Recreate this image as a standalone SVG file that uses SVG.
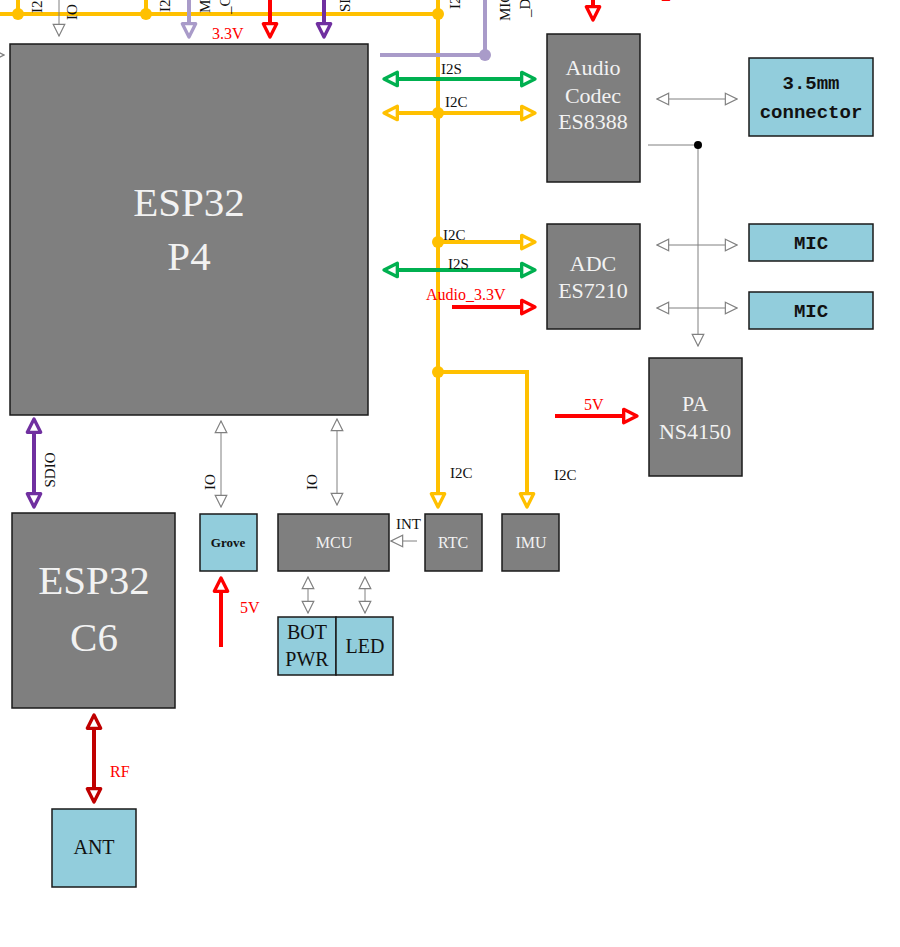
<svg xmlns="http://www.w3.org/2000/svg" width="900" height="947" viewBox="0 0 900 947">
<style>
.chip{fill:#7F7F7F;stroke:#1a1a1a;stroke-width:1.5}
.blue{fill:#92CDDC;stroke:#1a1a1a;stroke-width:1.5}
.ct{font-family:"Liberation Serif",serif;fill:#F2F2F2;text-anchor:middle}
.bt{font-family:"Liberation Serif",serif;fill:#111;text-anchor:middle}
.mt{font-family:"Liberation Mono",monospace;fill:#111;text-anchor:middle;font-weight:bold}
.lb{font-family:"Liberation Serif",serif;fill:#111;font-size:15px}
.rl{font-family:"Liberation Serif",serif;fill:#FF0000;font-size:16px}
.y{stroke:#FFC000;stroke-width:4;fill:none}
.g{stroke:#00B050;stroke-width:4;fill:none}
.r{stroke:#FF0000;stroke-width:4;fill:none}
.p{stroke:#7030A0;stroke-width:4;fill:none}
.lv{stroke:#A99BC9;stroke-width:4;fill:none}
.dr{stroke:#C00000;stroke-width:4;fill:none}
.gr{stroke:#808080;stroke-width:1;fill:none}
</style>
<defs>
<marker id="aY" markerUnits="userSpaceOnUse" markerWidth="20" markerHeight="20" viewBox="-3 -3 18 18" refX="12" refY="6" orient="auto-start-reverse"><path d="M0,0 L12,6 L0,12 z" fill="#fff" stroke="#FFC000" stroke-width="3" stroke-linejoin="round"/></marker>
<marker id="aG" markerUnits="userSpaceOnUse" markerWidth="20" markerHeight="20" viewBox="-3 -3 18 18" refX="12" refY="6" orient="auto-start-reverse"><path d="M0,0 L12,6 L0,12 z" fill="#fff" stroke="#00B050" stroke-width="3" stroke-linejoin="round"/></marker>
<marker id="aR" markerUnits="userSpaceOnUse" markerWidth="20" markerHeight="20" viewBox="-3 -3 18 18" refX="12" refY="6" orient="auto-start-reverse"><path d="M0,0 L12,6 L0,12 z" fill="#fff" stroke="#FF0000" stroke-width="3" stroke-linejoin="round"/></marker>
<marker id="aP" markerUnits="userSpaceOnUse" markerWidth="20" markerHeight="20" viewBox="-3 -3 18 18" refX="12" refY="6" orient="auto-start-reverse"><path d="M0,0 L12,6 L0,12 z" fill="#fff" stroke="#7030A0" stroke-width="3" stroke-linejoin="round"/></marker>
<marker id="aL" markerUnits="userSpaceOnUse" markerWidth="20" markerHeight="20" viewBox="-3 -3 18 18" refX="12" refY="6" orient="auto-start-reverse"><path d="M0,0 L12,6 L0,12 z" fill="#fff" stroke="#A99BC9" stroke-width="3" stroke-linejoin="round"/></marker>
<marker id="aD" markerUnits="userSpaceOnUse" markerWidth="20" markerHeight="20" viewBox="-3 -3 18 18" refX="12" refY="6" orient="auto-start-reverse"><path d="M0,0 L12,6 L0,12 z" fill="#fff" stroke="#C00000" stroke-width="3" stroke-linejoin="round"/></marker>
<marker id="aK" markerUnits="userSpaceOnUse" markerWidth="14" markerHeight="14" viewBox="-1 -1 12 12" refX="10" refY="5" orient="auto-start-reverse"><path d="M0,0 L10,5 L0,10 z" fill="#fff" stroke="#808080" stroke-width="1"/></marker>
</defs>

<g id="connectors">
  <!-- yellow I2C bus -->
  <path class="y" d="M0,14 H438"/>
  <path class="y" d="M18,0 V14 M146,0 V14"/>
  <path class="y" d="M438,0 V507" marker-end="url(#aY)"/>
  <path class="y" d="M384,113 H535" marker-start="url(#aY)" marker-end="url(#aY)"/>
  <path class="y" d="M438,242 H535" marker-end="url(#aY)"/>
  <path class="y" d="M438,372 H527 V507" marker-end="url(#aY)"/>
  <g fill="#FFC000">
    <circle cx="18" cy="14" r="6"/><circle cx="146" cy="14" r="6"/><circle cx="438" cy="14" r="6"/>
    <circle cx="438" cy="113" r="6"/><circle cx="438" cy="242" r="6"/><circle cx="438" cy="372" r="6"/>
  </g>
  <!-- green I2S -->
  <path class="g" d="M384,79 H535" marker-start="url(#aG)" marker-end="url(#aG)"/>
  <path class="g" d="M384,270 H535" marker-start="url(#aG)" marker-end="url(#aG)"/>
  <!-- lavender -->
  <path class="lv" d="M485,0 V55 H380"/>
  <circle cx="485" cy="55" r="6" fill="#A99BC9"/>
  <path class="lv" d="M189,0 V37" marker-end="url(#aL)"/>
  <!-- red power -->
  <path class="r" d="M270,0 V37" marker-end="url(#aR)"/>
  <path class="r" d="M593,0 V20" marker-end="url(#aR)"/>
  <path class="r" d="M452,307 H535" marker-end="url(#aR)"/>
  <path class="r" d="M555,416 H637" marker-end="url(#aR)"/>
  <path class="r" d="M221,647 V578" marker-end="url(#aR)"/>
  <!-- purple -->
  <path class="p" d="M324,0 V37" marker-end="url(#aP)"/>
  <path class="p" d="M34,419 V507" marker-start="url(#aP)" marker-end="url(#aP)"/>
  <!-- RF -->
  <path class="dr" d="M94,715 V802" marker-start="url(#aD)" marker-end="url(#aD)"/>
  <!-- gray thin -->
  <path class="gr" d="M59,0 V36" marker-end="url(#aK)"/>
  <path class="gr" d="M-8,55 H4" marker-end="url(#aK)"/>
  <path class="gr" d="M657,99 H737" marker-start="url(#aK)" marker-end="url(#aK)"/>
  <path class="gr" d="M657,245 H737" marker-start="url(#aK)" marker-end="url(#aK)"/>
  <path class="gr" d="M657,308 H737" marker-start="url(#aK)" marker-end="url(#aK)"/>
  <path class="gr" d="M648,145 H698 V346" marker-end="url(#aK)"/>
  <circle cx="698" cy="145" r="4" fill="#000"/>
  <path class="gr" d="M221,421 V507" marker-start="url(#aK)" marker-end="url(#aK)"/>
  <path class="gr" d="M337,419 V505" marker-start="url(#aK)" marker-end="url(#aK)"/>
  <path class="gr" d="M417,541 H391" marker-end="url(#aK)"/>
  <path class="gr" d="M308,577 V613" marker-start="url(#aK)" marker-end="url(#aK)"/>
  <path class="gr" d="M365,577 V613" marker-start="url(#aK)" marker-end="url(#aK)"/>

  <!-- labels -->
  <text class="lb" transform="translate(42,13) rotate(-90)">I2C</text>
  <text class="lb" transform="translate(77,20) rotate(-90)">IO</text>
  <text class="lb" transform="translate(170,12) rotate(-90)">I2C</text>
  <text class="lb" transform="translate(210,13) rotate(-90)">MIC</text>
  <text class="lb" transform="translate(230,14) rotate(-90)">_CLK</text>
  <text class="lb" transform="translate(350,12) rotate(-90)">SDIO</text>
  <text class="lb" transform="translate(460,9) rotate(-90)">I2C</text>
  <text class="lb" transform="translate(510,21) rotate(-90)">MIC</text>
  <text class="lb" transform="translate(530,17) rotate(-90)">_DATA</text>
  <text class="rl" x="622" y="-1">Audio_3.3V</text>
  <text class="rl" x="212" y="39">3.3V</text>
  <text class="lb" x="441" y="74">I2S</text>
  <text class="lb" x="445" y="107">I2C</text>
  <text class="lb" x="443" y="240">I2C</text>
  <text class="lb" x="448" y="269">I2S</text>
  <text class="rl" x="426" y="300">Audio_3.3V</text>
  <text class="rl" x="584" y="410">5V</text>
  <text class="lb" x="450" y="478">I2C</text>
  <text class="lb" x="554" y="480">I2C</text>
  <text class="lb" x="396" y="529">INT</text>
  <text class="lb" text-anchor="middle" transform="translate(215,482) rotate(-90)">IO</text>
  <text class="lb" text-anchor="middle" transform="translate(317,482) rotate(-90)">IO</text>
  <text class="lb" text-anchor="middle" transform="translate(55,470) rotate(-90)">SDIO</text>
  <text class="rl" x="240" y="613">5V</text>
  <text class="rl" x="110" y="777">RF</text>
</g>

<g id="esp32p4"><rect class="chip" x="10" y="44" width="358" height="371"/>
  <text class="ct" x="189" y="216" font-size="41">ESP32</text><text class="ct" x="189" y="270" font-size="41">P4</text></g>
<g id="codec"><rect class="chip" x="547" y="34" width="93" height="148"/>
  <text class="ct" x="593" y="75" font-size="22">Audio</text><text class="ct" x="593" y="103" font-size="22">Codec</text><text class="ct" x="593" y="129" font-size="22">ES8388</text></g>
<g id="jack"><rect class="blue" x="749" y="58" width="124" height="78"/>
  <text class="mt" x="811" y="89" font-size="19">3.5mm</text><text class="mt" x="811" y="118" font-size="19">connector</text></g>
<g id="adc"><rect class="chip" x="547" y="224" width="93" height="105"/>
  <text class="ct" x="593" y="271" font-size="22">ADC</text><text class="ct" x="593" y="298" font-size="22">ES7210</text></g>
<g id="mic1"><rect class="blue" x="749" y="224" width="124" height="37"/><text class="mt" x="811" y="249" font-size="19">MIC</text></g>
<g id="mic2"><rect class="blue" x="749" y="292" width="124" height="37"/><text class="mt" x="811" y="317" font-size="19">MIC</text></g>
<g id="pa"><rect class="chip" x="649" y="358" width="93" height="118"/>
  <text class="ct" x="695" y="411" font-size="22">PA</text><text class="ct" x="695" y="439" font-size="22">NS4150</text></g>
<g id="grove"><rect class="blue" x="200" y="514" width="57" height="57"/><text class="bt" x="228" y="547" font-size="13" font-weight="bold">Grove</text></g>
<g id="mcu"><rect class="chip" x="278" y="514" width="111" height="57"/><text class="ct" x="334" y="548" font-size="16">MCU</text></g>
<g id="rtc"><rect class="chip" x="425" y="514" width="57" height="57"/><text class="ct" x="453" y="548" font-size="16">RTC</text></g>
<g id="imu"><rect class="chip" x="502" y="514" width="57" height="57"/><text class="ct" x="531" y="548" font-size="16">IMU</text></g>
<g id="botpwr"><rect class="blue" x="278" y="617" width="58" height="58"/>
  <text class="bt" x="307" y="639" font-size="20">BOT</text><text class="bt" x="307" y="666" font-size="20">PWR</text></g>
<g id="led"><rect class="blue" x="336" y="617" width="57" height="58"/><text class="bt" x="365" y="653" font-size="20">LED</text></g>
<g id="esp32c6"><rect class="chip" x="12" y="513" width="163" height="195"/>
  <text class="ct" x="94" y="594" font-size="41">ESP32</text><text class="ct" x="94" y="651" font-size="41">C6</text></g>
<g id="ant"><rect class="blue" x="52" y="809" width="84" height="78"/><text class="bt" x="94" y="854" font-size="20">ANT</text></g>
</svg>
